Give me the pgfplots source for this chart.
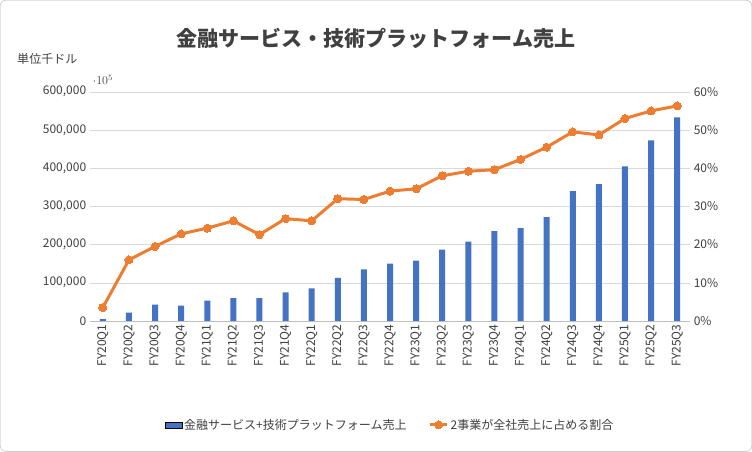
\documentclass[border=0pt]{standalone}
\usepackage{pgfplots}
\pgfplotsset{compat=1.18}
\usepackage{fontspec}
\setmainfont{Noto Sans CJK JP}
\definecolor{barc}{HTML}{4472C4}
\definecolor{linec}{HTML}{ED7D31}
\begin{document}
\begin{tikzpicture}[x=1pt,y=1pt]
\draw[gray!60,rounded corners=6pt,fill=white] (0.5,0.5) rectangle (751.5,451.5);
\node[font=\bfseries\fontsize{21}{24}\selectfont,text=black!75] at (376,413) {金融サービス・技術プラットフォーム売上};
\node[font=\fontsize{12}{14}\selectfont,text=black!75,anchor=west] at (14,393) {単位千ドル};
\begin{axis}[at={(90pt,131pt)},anchor=south west,scale only axis,width=600pt,height=229pt,
 xmin=-0.5,xmax=22.5,ymin=0,ymax=600000,ytick={0,100000,200000,300000,400000,500000,600000},
 yticklabels={0,{100,000},{200,000},{300,000},{400,000},{500,000},{600,000}},
 xtick={0,...,22},xticklabels={FY20Q1,FY20Q2,FY20Q3,FY20Q4,FY21Q1,FY21Q2,FY21Q3,FY21Q4,FY22Q1,FY22Q2,FY22Q3,FY22Q4,FY23Q1,FY23Q2,FY23Q3,FY23Q4,FY24Q1,FY24Q2,FY24Q3,FY24Q4,FY25Q1,FY25Q2,FY25Q3},
 x tick label style={rotate=90,anchor=east},
 tick label style={font=\fontsize{12}{14}\selectfont,text=black!75},
 ymajorgrids,grid style={gray!30},axis line style={draw=none},tick style={draw=none},
 axis x line*=bottom, x axis line style={draw=gray!50}]
\addplot[ybar,bar width=6pt,fill=barc,draw=none] coordinates {
(0,5000)(1,22000)(2,43000)(3,40000)(4,53000)(5,60000)(6,60000)(7,75000)(8,85000)(9,113000)(10,135000)(11,150000)(12,158000)(13,187000)(14,208000)(15,235000)(16,243000)(17,272000)(18,340000)(19,358000)(20,405000)(21,473000)(22,533000)};
\end{axis}
\begin{axis}[at={(90pt,131pt)},anchor=south west,scale only axis,width=600pt,height=229pt,
 xmin=-0.5,xmax=22.5,ymin=0,ymax=60,ytick={0,10,20,30,40,50,60},axis y line*=right,
 yticklabels={0\%,10\%,20\%,30\%,40\%,50\%,60\%},
 xtick=\empty,hide x axis,axis line style={draw=none},tick style={draw=none},
 tick label style={font=\fontsize{12}{14}\selectfont,text=black!75},
 legend style={at={(0.5,-0.41)},anchor=north,draw=none,legend columns=2,font=\fontsize{12}{14}\selectfont,text=black!75,/tikz/every even column/.append style={column sep=20pt}}]
\addlegendimage{area legend,fill=barc,draw=none}
\addlegendentry{金融サービス+技術プラットフォーム売上}
\addplot[linec,line width=3pt,mark=*,mark size=4pt,mark options={fill=linec,draw=linec,line width=0pt}] coordinates {
(0,3.5)(1,16)(2,19.5)(3,22.8)(4,24.3)(5,26.2)(6,22.6)(7,26.8)(8,26.2)(9,32)(10,31.8)(11,34)(12,34.6)(13,38)(14,39.2)(15,39.6)(16,42.3)(17,45.5)(18,49.5)(19,48.7)(20,53)(21,55)(22,56.3)};
\addlegendentry{2事業が全社売上に占める割合}
\node[font=\bfseries\fontsize{17}{20}\selectfont,text=black!75] at (axis cs:20.3,62.5) {56.3\%};
\end{axis}
\end{tikzpicture}
\end{document}
